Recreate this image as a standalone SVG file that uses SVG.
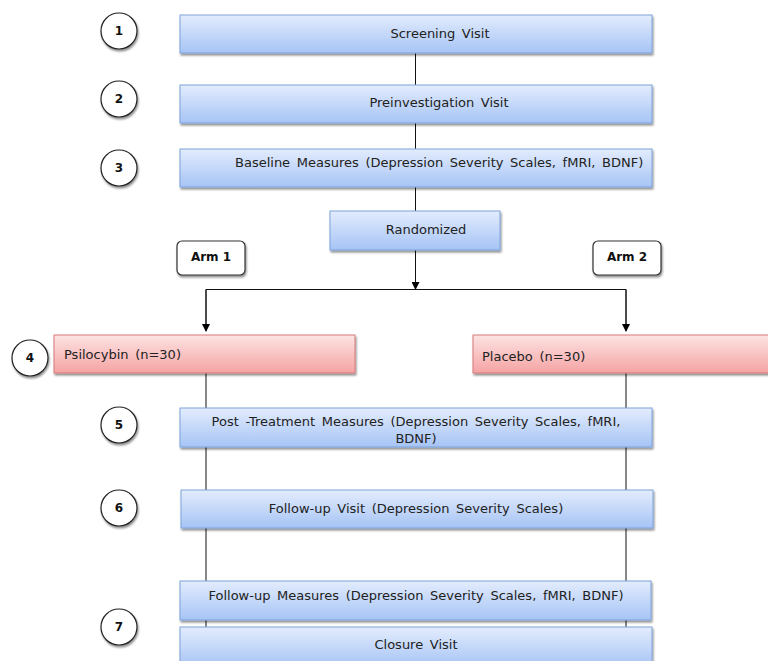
<svg xmlns="http://www.w3.org/2000/svg" width="768" height="661" viewBox="0 0 768 661">
<defs>
<linearGradient id="gb" x1="0" y1="0" x2="0" y2="1">
<stop offset="0" stop-color="#e3ecfd"/>
<stop offset="1" stop-color="#a6c4f5"/>
</linearGradient>
<linearGradient id="gr" x1="0" y1="0" x2="0" y2="1">
<stop offset="0" stop-color="#fde3e3"/>
<stop offset="1" stop-color="#f5a3a3"/>
</linearGradient>
<filter id="sh" x="-10%" y="-20%" width="130%" height="160%">
<feGaussianBlur in="SourceAlpha" stdDeviation="1.2"/>
<feOffset dx="1" dy="2" result="b"/>
<feComponentTransfer><feFuncA type="linear" slope="0.45"/></feComponentTransfer>
<feMerge><feMergeNode/><feMergeNode in="SourceGraphic"/></feMerge>
</filter>
<marker id="ah" markerWidth="8" markerHeight="8" refX="7" refY="4" orient="auto" markerUnits="userSpaceOnUse">
<path d="M0,0 L8,4 L0,8 z" fill="#000"/>
</marker>
</defs>
<style>
.bb{fill:url(#gb);stroke:#7fa3dc;stroke-width:1;filter:url(#sh)}
.rb{fill:url(#gr);stroke:#d77b7b;stroke-width:1;filter:url(#sh)}
.c{fill:#fff;stroke:#222;stroke-width:1.2;filter:url(#sh)}
.a{fill:#fff;stroke:#333;stroke-width:1.2;filter:url(#sh)}
.t{font-family:"DejaVu Sans",Verdana,sans-serif;font-size:13px;fill:#222;word-spacing:2.5px}
.n{font-family:"DejaVu Sans",Verdana,sans-serif;font-size:12px;font-weight:bold;fill:#111}
.ln{stroke:#111;stroke-width:1;fill:none}
.m{text-anchor:middle}
</style>
<rect width="768" height="661" fill="#fff"/>
<g id="connectors">
<line class="ln" x1="415.5" y1="53" x2="415.5" y2="85"/>
<line class="ln" x1="415.5" y1="123" x2="415.5" y2="149"/>
<line class="ln" x1="415.5" y1="187" x2="415.5" y2="211"/>
<line class="ln" x1="415.5" y1="250" x2="415.5" y2="289" marker-end="url(#ah)"/>
<polyline class="ln" points="206,330 206,289.5 626,289.5 626,330"/>
<line class="ln" x1="206" y1="289.5" x2="206" y2="331" marker-end="url(#ah)"/>
<line class="ln" x1="626" y1="289.5" x2="626" y2="331" marker-end="url(#ah)"/>
<line class="ln" x1="206" y1="373" x2="206" y2="628"/>
<line class="ln" x1="626" y1="373" x2="626" y2="628"/>
</g>
<g id="n1"><rect class="bb" x="180" y="15" width="472" height="38"/><text class="t m" x="440" y="38">Screening Visit</text></g>
<g id="n2"><rect class="bb" x="180" y="85" width="472" height="38"/><text class="t m" x="439" y="107">Preinvestigation Visit</text></g>
<g id="n3"><rect class="bb" x="180" y="149" width="472" height="38"/><text class="t" x="235" y="167">Baseline Measures (Depression Severity Scales, fMRI, BDNF)</text></g>
<g id="rand"><rect class="bb" x="330" y="211" width="170" height="39"/><text class="t m" x="426" y="234">Randomized</text></g>
<g id="arm1"><rect class="a" x="177" y="241" width="68" height="34" rx="5"/><text class="n m" x="211" y="261">Arm 1</text></g>
<g id="arm2"><rect class="a" x="593" y="241" width="68" height="34" rx="5"/><text class="n m" x="627" y="261">Arm 2</text></g>
<g id="n4a"><rect class="rb" x="54" y="335" width="301" height="38"/><text class="t" x="64" y="359">Psilocybin (n=30)</text></g>
<g id="n4b"><rect class="rb" x="473" y="335" width="300" height="38"/><text class="t" x="482" y="361">Placebo (n=30)</text></g>
<g id="n5"><rect class="bb" x="180" y="408" width="472" height="39"/><text class="t m" x="416" y="426">Post -Treatment Measures (Depression Severity Scales, fMRI,</text><text class="t m" x="416" y="443">BDNF)</text></g>
<g id="n6"><rect class="bb" x="181" y="490" width="472" height="38"/><text class="t m" x="416" y="513">Follow-up Visit (Depression Severity Scales)</text></g>
<g id="n7a"><rect class="bb" x="180" y="581" width="471" height="39"/><text class="t m" x="416" y="600">Follow-up Measures (Depression Severity Scales, fMRI, BDNF)</text></g>
<g id="n7b"><rect class="bb" x="180" y="627" width="472" height="40"/><text class="t m" x="416" y="649">Closure Visit</text></g>
<g id="c1"><circle class="c" cx="119" cy="31" r="18"/><text class="n m" x="119" y="35">1</text></g>
<g id="c2"><circle class="c" cx="119" cy="99" r="18"/><text class="n m" x="119" y="103">2</text></g>
<g id="c3"><circle class="c" cx="119" cy="168" r="18"/><text class="n m" x="119" y="172">3</text></g>
<g id="c4"><circle class="c" cx="30" cy="358" r="18"/><text class="n m" x="30" y="362">4</text></g>
<g id="c5"><circle class="c" cx="119" cy="425" r="18"/><text class="n m" x="119" y="429">5</text></g>
<g id="c6"><circle class="c" cx="119" cy="508" r="18"/><text class="n m" x="119" y="512">6</text></g>
<g id="c7"><circle class="c" cx="119" cy="627" r="18"/><text class="n m" x="119" y="631">7</text></g>
</svg>
